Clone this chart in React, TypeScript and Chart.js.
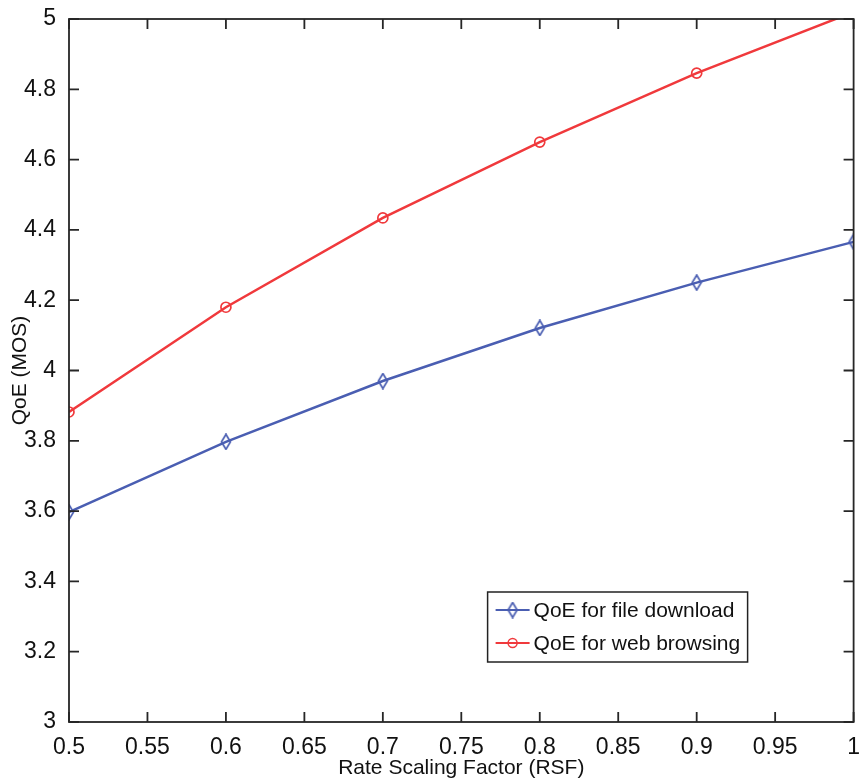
import React, { useEffect, useRef } from "react";
import { Chart, registerables } from "chart.js";

Chart.register(...registerables);

const rsf = [0.5, 0.6, 0.7, 0.8, 0.9, 1.0];
const qoeFileDownload = [3.597, 3.797, 3.97, 4.121, 4.25, 4.366];
const qoeWebBrowsing = [3.882, 4.18, 4.434, 4.65, 4.846, 5.02];
const xTickValues = [0.5, 0.55, 0.6, 0.65, 0.7, 0.75, 0.8, 0.85, 0.9, 0.95, 1.0];
const yTickValues = [3, 3.2, 3.4, 3.6, 3.8, 4, 4.2, 4.4, 4.6, 4.8, 5];
const seriesLabels = ["QoE for file download", "QoE for web browsing"];
const xTitle = "Rate Scaling Factor (RSF)";
const yTitle = "QoE (MOS)";

const FONT = "'Liberation Sans Narrow', 'Liberation Sans', sans-serif";
const BLUE = "#4a5eb2";
const RED = "#f0393c";
const AXIS = "#262626";

function makeDiamond(color: string): HTMLCanvasElement {
  const c = document.createElement("canvas");
  c.width = 12;
  c.height = 17;
  const ctx = c.getContext("2d")!;
  ctx.strokeStyle = color;
  ctx.lineWidth = 1.7;
  ctx.beginPath();
  ctx.moveTo(6, 1);
  ctx.lineTo(10.5, 8.5);
  ctx.lineTo(6, 16);
  ctx.lineTo(1.5, 8.5);
  ctx.closePath();
  ctx.stroke();
  return c;
}

const frameAndLegend = {
  id: "frameAndLegend",
  afterDatasetsDraw(chart: any) {
    const { ctx, chartArea } = chart;
    const { left, right, top, bottom } = chartArea;
    const xs = chart.scales.x;
    const ys = chart.scales.y;
    ctx.save();
    ctx.strokeStyle = AXIS;
    ctx.lineWidth = 1.8;
    ctx.strokeRect(left, top, right - left, bottom - top);
    const tl = 10;
    ctx.beginPath();
    xTickValues.forEach((v) => {
      const x = xs.getPixelForValue(v);
      ctx.moveTo(x, bottom);
      ctx.lineTo(x, bottom - tl);
      ctx.moveTo(x, top);
      ctx.lineTo(x, top + tl);
    });
    yTickValues.forEach((v) => {
      const y = ys.getPixelForValue(v);
      ctx.moveTo(left, y);
      ctx.lineTo(left + tl, y);
      ctx.moveTo(right, y);
      ctx.lineTo(right - tl, y);
    });
    ctx.stroke();

    // legend
    const bx = right - 366;
    const by = bottom - 130;
    const bw = 260;
    const bh = 70;
    ctx.fillStyle = "#ffffff";
    ctx.fillRect(bx, by, bw, bh);
    ctx.strokeStyle = "#222";
    ctx.lineWidth = 1.5;
    ctx.strokeRect(bx, by, bw, bh);
    chart.data.datasets.forEach((ds: any, i: number) => {
      const cy = by + 18 + i * 33;
      ctx.strokeStyle = ds.borderColor;
      ctx.lineWidth = 2;
      ctx.beginPath();
      ctx.moveTo(bx + 8, cy);
      ctx.lineTo(bx + 42, cy);
      ctx.stroke();
      if (ds.pointStyle instanceof HTMLCanvasElement) {
        const img = ds.pointStyle;
        ctx.drawImage(img, bx + 25 - img.width / 2, cy - img.height / 2);
      } else {
        ctx.lineWidth = 1.5;
        ctx.beginPath();
        ctx.arc(bx + 25, cy, 4.5, 0, Math.PI * 2);
        ctx.stroke();
      }
      ctx.fillStyle = "#111";
      ctx.font = `21px ${FONT}`;
      ctx.textBaseline = "middle";
      ctx.textAlign = "left";
      ctx.fillText(ds.label, bx + 46, cy + 1);
    });
    ctx.restore();
  },
};

export default function App() {
  const ref = useRef<HTMLCanvasElement | null>(null);
  useEffect(() => {
    document.body.style.margin = "0";
    const canvas = ref.current!;
    const diamond = makeDiamond(BLUE);
    const chart = new Chart(canvas, {
      type: "line",
      data: {
        labels: rsf,
        datasets: [
          {
            label: seriesLabels[0],
            data: rsf.map((x, i) => ({ x, y: qoeFileDownload[i] })),
            borderColor: BLUE,
            backgroundColor: "transparent",
            borderWidth: 2.5,
            pointStyle: diamond as any,
            pointRadius: 6,
            tension: 0,
            clip: 0 as any,
          },
          {
            label: seriesLabels[1],
            data: rsf.map((x, i) => ({ x, y: qoeWebBrowsing[i] })),
            borderColor: RED,
            backgroundColor: "transparent",
            pointBorderColor: RED,
            pointBackgroundColor: "transparent",
            borderWidth: 2.5,
            pointStyle: "circle",
            pointRadius: 5,
            pointBorderWidth: 1.7,
            tension: 0,
            clip: 0 as any,
          },
        ],
      },
      options: {
        responsive: false,
        animation: false,
        layout: { padding: { top: 19, right: 6, left: 0, bottom: 0 } },
        plugins: {
          legend: { display: false },
          tooltip: { enabled: false },
        },
        scales: {
          x: {
            type: "linear",
            min: 0.5,
            max: 1,
            grid: { display: false },
            border: { display: false },
            afterBuildTicks: (s: any) => {
              s.ticks = xTickValues.map((v) => ({ value: v }));
            },
            afterFit: (s: any) => {
              s.height = 59;
            },
            ticks: {
              autoSkip: false,
              maxRotation: 0,
              padding: 4,
              color: "#111",
              font: { family: FONT, size: 23 },
              callback: (v: any) => String(Number(Number(v).toFixed(2))),
            },
            title: {
              display: true,
              text: xTitle,
              color: "#111",
              font: { family: FONT, size: 21 },
              padding: { top: 2, bottom: 0 },
            },
          },
          y: {
            type: "linear",
            min: 3,
            max: 5,
            grid: { display: false },
            border: { display: false },
            afterBuildTicks: (s: any) => {
              s.ticks = yTickValues.map((v) => ({ value: v }));
            },
            afterFit: (s: any) => {
              s.width = 69;
            },
            ticks: {
              autoSkip: false,
              padding: 5,
              color: "#111",
              font: { family: FONT, size: 23 },
              callback: (v: any) => String(Number(Number(v).toFixed(2))),
            },
            title: {
              display: true,
              text: yTitle,
              color: "#111",
              font: { family: FONT, size: 21 },
              padding: { top: 8, bottom: 0 },
            },
          },
        },
      },
      plugins: [frameAndLegend],
    });
    return () => chart.destroy();
  }, []);
  return (
    <div style={{ width: 864, height: 781 }}>
      <canvas ref={ref} width={864} height={781} style={{ display: "block" }} />
    </div>
  );
}
